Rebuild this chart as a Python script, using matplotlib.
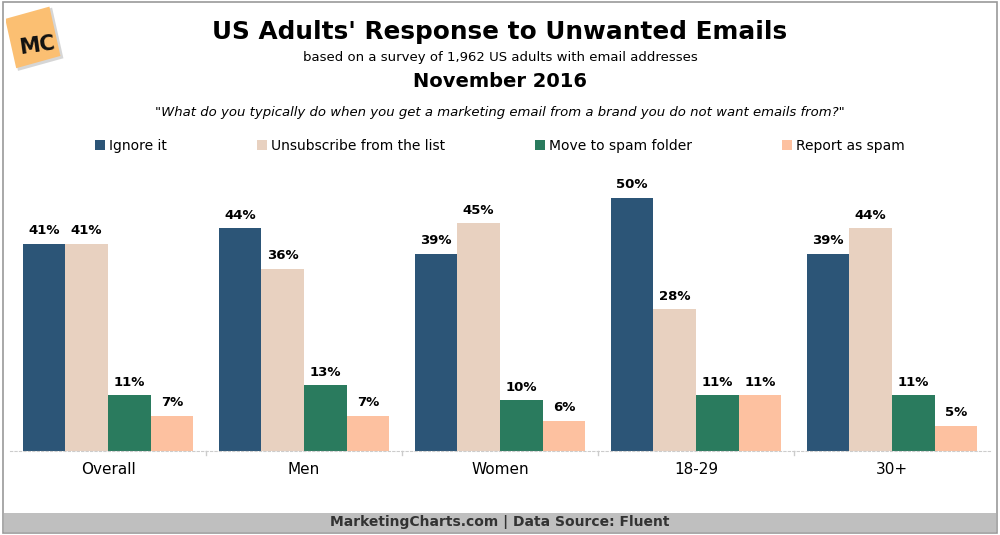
import matplotlib
matplotlib.use("Agg")
import matplotlib.pyplot as plt
import matplotlib.patches as mpatches
import numpy as np

categories = ["Overall", "Men", "Women", "18-29", "30+"]
series_names = ["Ignore it", "Unsubscribe from the list", "Move to spam folder", "Report as spam"]
ignore_it = [41, 44, 39, 50, 39]
unsubscribe = [41, 36, 45, 28, 44]
spam_folder = [11, 13, 10, 11, 11]
report_spam = [7, 7, 6, 11, 5]
colors = ["#2C5577", "#E8D1C0", "#2A7B5E", "#FDC1A0"]

fig = plt.figure(figsize=(10, 5.35), dpi=100)

# outer border + footer band
fig.patches.append(mpatches.Rectangle((0.003, 0.003), 0.994, 0.994, transform=fig.transFigure,
                                      fill=False, edgecolor="#999999", linewidth=1.2))
fig.patches.append(mpatches.Rectangle((0.004, 0.005), 0.992, 0.037, transform=fig.transFigure,
                                      facecolor="#BFBFBF", edgecolor="none"))
fig.text(0.5, 0.024, "MarketingCharts.com | Data Source: Fluent", ha="center", va="center",
         fontsize=10, fontweight="bold", color="#333333")

# logo (tilted square)
lax = fig.add_axes([0.006, 0.865, 0.06, 0.125])
lax.set_xlim(0, 1)
lax.set_ylim(0, 1)
lax.axis("off")
lax.add_patch(mpatches.Rectangle((0.2, 0.02), 0.78, 0.78, angle=14, facecolor="#bbbbbb",
                                 edgecolor="none", alpha=0.6))
lax.add_patch(mpatches.Rectangle((0.17, 0.06), 0.76, 0.76, angle=14, facecolor="#FBBF72",
                                 edgecolor="none"))
lax.text(0.52, 0.4, "MC", ha="center", va="center", fontsize=15, fontweight="bold",
         color="#111111", rotation=8)

# titles
fig.text(0.5, 0.94, "US Adults' Response to Unwanted Emails", ha="center", va="center",
         fontsize=17.8, fontweight="bold")
fig.text(0.5, 0.892, "based on a survey of 1,962 US adults with email addresses", ha="center",
         va="center", fontsize=9.5)
fig.text(0.5, 0.847, "November 2016", ha="center", va="center", fontsize=14, fontweight="bold")
fig.text(0.5, 0.79, "\"What do you typically do when you get a marketing email from a brand you do not want emails from?\"",
         ha="center", va="center", fontsize=9.5, style="italic")

ax = fig.add_axes([0.01, 0.157, 0.98, 0.525])
x = np.arange(len(categories))
w = 0.2175
all_series = [ignore_it, unsubscribe, spam_folder, report_spam]
for i, (vals, c, name) in enumerate(zip(all_series, colors, series_names)):
    pos = x + (i - 1.5) * w
    bars = ax.bar(pos, vals, width=w, color=c, label=name)
    for xp, v in zip(pos, vals):
        ax.text(xp, v + 1.3, f"{v}%", ha="center", va="bottom", fontsize=9.5, fontweight="bold")

ax.set_xlim(-0.5, 4.5)
ax.set_ylim(0, 55.5)
ax.set_yticks([])
ax.set_xticks(x)
ax.set_xticklabels(categories, fontsize=11)
ax.tick_params(axis="x", length=0, pad=8)
for s in ["top", "right", "left"]:
    ax.spines[s].set_visible(False)
ax.spines["bottom"].set_color("#cccccc")
ax.spines["bottom"].set_linestyle((0, (2, 2)))
for b in np.arange(0.5, 4.5, 1.0):
    ax.plot([b, b], [0, -0.8], color="#cccccc", lw=1, clip_on=False)

leg = fig.legend(loc="center", bbox_to_anchor=(0.5, 0.727), ncol=4, frameon=False, fontsize=10,
                 handlelength=0.7, handleheight=0.7, handletextpad=0.3, columnspacing=6.5)

fig.savefig("out.png", dpi=100)
